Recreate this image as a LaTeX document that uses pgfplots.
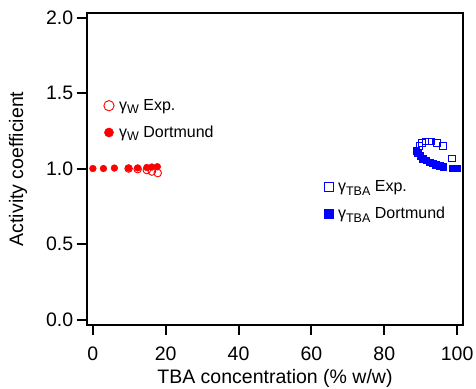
\documentclass[border=0pt]{standalone}
\usepackage{pgfplots}
\pgfplotsset{compat=1.18}
\usepackage{fontspec}
\setmainfont{Liberation Sans}
\definecolor{myred}{RGB}{255,0,0}
\definecolor{myblue}{RGB}{0,0,255}
\newcommand{\sub}[1]{\raisebox{-0.4ex}{\fontsize{12.5}{13}\selectfont #1}}
\pgfplotsset{
  base/.style={scale only axis, width=376.6pt, height=311.2pt,
    xmin=-1.7, xmax=101.7, ymin=-0.033, ymax=2.028},
  myleg/.style={legend style={draw=none, fill=none, inner sep=0pt,
    font=\fontsize{16}{18}\selectfont, row sep=12pt,
    nodes={inner sep=1pt}, legend cell align=left,
    /tikz/every odd column/.style={column sep=4pt}},
    legend image code/.code={\draw[mark repeat=2,mark phase=2,##1,mark options={scale=1.35}] plot coordinates {(0pt,0pt)(6pt,0pt)(12pt,0pt)};}}
}
\begin{document}
\begin{tikzpicture}
\begin{axis}[base, myleg,
  axis line style={line width=2pt},
  tick style={line width=2pt, black},
  tick align=outside, major tick length=10pt,
  xtick={0,20,...,100}, ytick={0,0.5,...,2.0},
  xtick pos=bottom, ytick pos=left,
  yticklabel style={/pgf/number format/.cd, fixed, fixed zerofill, precision=1},
  /pgf/number format/assume math mode=true,
  tick label style={font=\fontsize{19.5}{22}\selectfont},
  xticklabel style={yshift=-9pt},
  label style={font=\fontsize{19.5}{22}\selectfont},
  xlabel={TBA concentration (\% w/w)},
  ylabel={Activity coefficient},
  xlabel style={yshift=-2pt},
  ylabel style={yshift=12pt},
  legend style={at={(0.045,0.727)}, anchor=north west},
]
\addplot[only marks, mark=o, mark size=3.8pt, myred, line width=0.9pt] coordinates {
(9.8,1.000) (12.3,0.996) (14.8,0.990) (16.2,0.980) (17.8,0.970)
};
\addlegendentry{γ\sub{W} Exp.}
\addplot[only marks, mark=*, mark size=3.4pt, myred, fill=myred] coordinates {
(0,1.000) (2.9,1.000) (5.9,1.003) (9.8,1.003) (12.3,1.004) (14.8,1.007) (16.2,1.010) (17.7,1.012)
};
\addlegendentry{γ\sub{W} Dortmund}
\end{axis}
\begin{axis}[base, myleg, hide axis,
  legend style={at={(0.630,0.466)}, anchor=north west},
]
\addplot[only marks, mark=square, mark size=3.3pt, myblue, line width=0.9pt] coordinates {
(89.7,1.150) (90.4,1.168) (91.3,1.180) (92.2,1.180) (93.0,1.178) (94.4,1.170) (96.1,1.148) (98.6,1.068)
};
\addlegendentry{γ\sub{TBA} Exp.}
\addplot[only marks, mark=square*, mark size=3.3pt, myblue, fill=myblue] coordinates {
(88.8,1.118) (89.2,1.101) (89.9,1.083) (90.6,1.067) (91.5,1.056) (92.4,1.043) (93.3,1.034) (94.2,1.025) (95.3,1.019) (96.2,1.012) (98.6,1.002) (99.3,1.001) (100,1.001)
};
\addlegendentry{γ\sub{TBA} Dortmund}
\end{axis}
\pgfresetboundingbox
\path ([shift={(-86.7pt,-63.5pt)}]current axis.south west) rectangle ([shift={(12.7pt,13.3pt)}]current axis.north east);
\end{tikzpicture}
\end{document}
